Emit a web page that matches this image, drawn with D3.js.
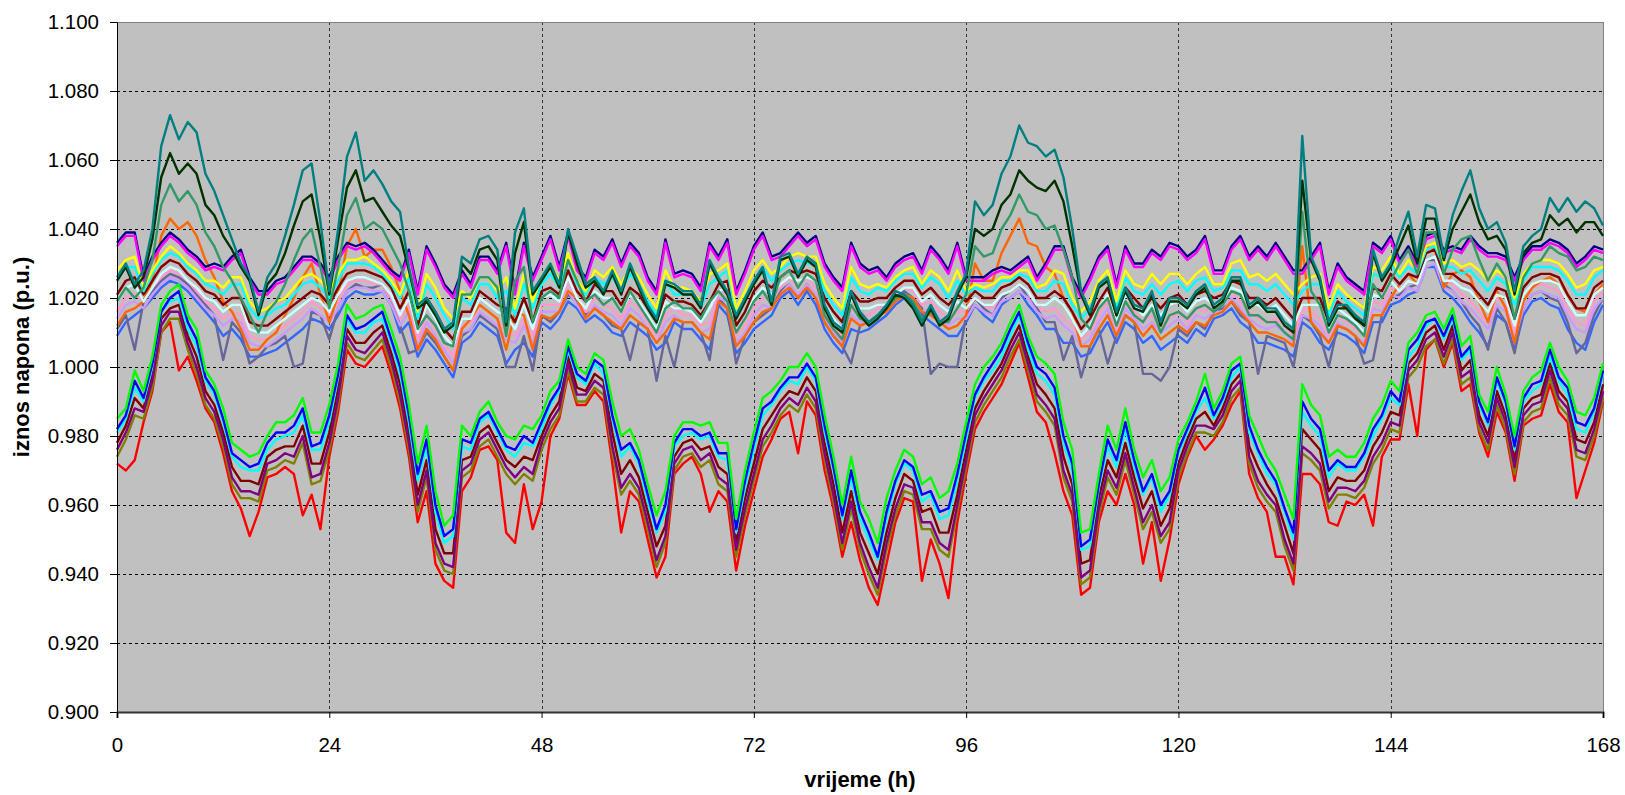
<!DOCTYPE html>
<html><head><meta charset="utf-8">
<script src="https://cdn.jsdelivr.net/npm/d3@7"></script>
<style>
body{margin:0;background:#fff}
svg text{font-family:"Liberation Sans",Arial,Helvetica,sans-serif;fill:#000}
</style>
</head><body>
<svg id="chart" width="1625" height="795"></svg>
<script>
// Hourly voltage magnitudes, in units of 0.001 p.u. (h = 0..168)
const LOW_GREEN=[985,988,999,993,1003,1018,1022,1024,1015,1011,999,995,988,978,976,974,975,980,984,984,986,991,981,981,989,1001,1018,1014,1015,1017,1018,1011,1003,989,972,983,964,954,957,983,980,987,990,984,980,979,983,982,986,993,996,1008,1000,998,1004,1002,990,980,982,976,966,957,964,980,984,984,983,984,978,978,956,970,981,991,993,996,1000,1000,1004,1000,986,974,960,974,961,956,949,962,970,976,974,966,968,962,964,972,984,995,1000,1003,1007,1013,1018,1009,1003,1001,998,984,976,952,953,969,983,976,988,976,968,973,964,968,979,984,990,998,988,993,1001,1003,986,980,974,970,963,956,995,989,986,974,976,974,974,978,985,989,996,993,1007,1010,1015,1016,1011,1017,1006,1009,992,987,1000,992,980,993,997,999,1007,1000,996,987,986,991,1001];
const LOW_BLUE=[982,986,996,991,1001,1016,1020,1022,1013,1008,997,993,985,975,973,971,972,978,981,981,983,988,977,978,986,998,1015,1011,1012,1014,1016,1008,1000,986,969,979,960,951,953,979,978,985,987,982,977,976,980,978,984,990,994,1006,998,996,1002,1000,986,976,978,973,963,953,960,978,982,982,980,981,975,975,953,967,978,988,990,994,997,997,1001,997,983,971,957,970,958,952,945,958,967,973,971,963,964,958,959,969,981,992,997,1001,1005,1011,1016,1007,1000,998,994,980,972,948,950,966,979,973,984,973,964,969,960,964,976,982,988,994,986,991,999,1001,983,976,971,967,959,952,990,985,982,970,973,971,971,975,982,986,993,990,1005,1008,1013,1014,1009,1015,1003,1006,990,984,997,990,977,991,995,996,1005,997,994,984,983,988,999];
const LOW_CYAN=[981,985,994,990,1000,1016,1019,1020,1011,1006,996,992,984,974,971,970,970,976,979,980,981,986,976,976,984,997,1014,1010,1010,1013,1014,1007,998,984,967,977,958,949,951,977,976,984,986,981,976,974,978,977,982,989,993,1005,997,995,1001,998,985,974,977,972,961,952,958,977,980,981,979,980,974,973,952,965,976,986,989,993,996,995,1000,996,981,970,956,968,956,950,944,956,966,972,970,961,963,956,957,967,979,991,996,999,1003,1009,1015,1005,998,996,992,978,970,947,948,965,977,971,982,971,963,968,958,963,975,981,987,991,985,990,997,1000,981,975,969,966,958,950,987,983,980,968,972,970,970,974,980,985,991,989,1003,1006,1012,1014,1008,1014,1002,1005,989,983,996,989,976,990,993,995,1003,996,992,982,981,987,998];
const LOW_MAROON=[978,983,991,988,998,1014,1017,1018,1009,1003,993,989,981,971,967,967,966,974,976,977,977,983,972,972,981,994,1011,1007,1007,1010,1012,1004,995,981,963,973,953,946,946,973,974,981,983,978,973,971,974,973,980,986,990,1003,994,993,998,996,981,969,973,968,958,948,954,974,978,979,976,977,971,969,949,962,972,982,986,990,993,992,997,993,978,966,952,964,952,946,940,952,962,969,967,958,959,952,952,963,976,988,993,997,1001,1007,1012,1003,995,992,988,974,966,943,944,962,973,968,978,968,959,964,954,959,972,979,985,987,983,988,995,998,977,971,966,962,954,946,982,979,976,964,968,967,967,970,977,981,987,986,1001,1004,1010,1012,1005,1012,999,1002,986,980,993,986,973,988,991,992,1001,993,990,979,978,984,995];
const LOW_PURPLE=[976,981,988,987,996,1012,1016,1016,1007,1000,991,987,979,968,964,964,963,972,973,975,974,980,968,969,978,991,1009,1005,1004,1007,1010,1002,992,978,960,970,949,943,942,970,972,979,981,976,971,968,971,969,978,984,988,1001,992,992,996,994,977,965,969,965,955,944,951,972,976,977,973,975,968,966,947,959,969,979,983,988,991,989,994,990,975,963,949,961,949,942,936,949,959,966,965,955,955,949,947,960,973,986,991,995,999,1005,1010,1001,992,989,985,970,963,939,941,959,970,965,975,965,955,960,951,955,970,977,983,983,982,986,993,996,974,967,963,960,950,943,977,975,972,961,965,965,964,967,974,978,984,983,999,1002,1008,1010,1003,1010,997,999,984,978,991,984,971,986,989,990,999,991,988,976,975,982,993];
const LOW_OLIVE=[974,979,986,985,994,1010,1014,1014,1005,998,989,985,977,966,962,962,961,970,971,973,972,978,966,967,976,989,1007,1003,1002,1005,1008,1000,990,976,958,968,947,941,940,968,970,977,979,974,969,966,969,967,976,982,986,999,990,990,994,992,975,963,967,963,953,942,949,970,974,975,971,973,966,964,945,957,967,977,981,986,989,987,992,988,973,961,947,959,947,940,934,947,957,964,963,953,953,947,945,958,971,984,989,993,997,1003,1008,999,990,987,983,968,961,937,939,957,968,963,973,963,953,958,949,953,968,975,981,981,980,984,991,994,972,965,961,958,948,941,975,973,970,959,963,963,962,965,972,976,982,981,997,1000,1006,1008,1001,1008,995,997,982,976,989,982,969,984,987,988,997,989,986,974,973,980,991];
const LOW_RED=[972,970,973,984,993,1010,1013,999,1003,996,988,984,975,964,959,951,958,968,969,971,969,957,963,953,974,987,1005,1001,1000,1003,1006,998,988,974,955,964,943,938,936,964,968,976,977,973,952,949,966,953,961,980,985,998,989,989,993,990,972,952,964,961,950,939,945,969,972,974,969,958,964,961,941,954,964,974,979,985,987,975,990,986,970,959,945,955,944,936,931,943,955,962,961,938,950,943,933,955,969,982,987,991,995,1001,1007,997,987,984,975,964,957,934,936,955,964,960,969,960,943,955,938,950,966,974,980,976,979,983,989,993,969,962,958,945,945,937,969,969,966,955,954,961,960,963,954,974,979,979,995,980,1005,1008,1000,1007,993,995,981,974,987,981,967,983,985,986,995,987,984,962,970,978,990];

const UP_NAVY=[1036,1039,1039,1026,1032,1036,1039,1037,1034,1032,1029,1030,1029,1032,1034,1026,1022,1022,1025,1026,1029,1032,1032,1030,1026,1032,1036,1035,1036,1034,1031,1028,1026,1034,1022,1035,1030,1024,1021,1028,1024,1032,1032,1028,1036,1022,1036,1026,1032,1038,1029,1039,1029,1026,1034,1032,1037,1030,1036,1033,1026,1022,1037,1027,1028,1027,1023,1036,1032,1037,1022,1028,1035,1039,1032,1033,1036,1039,1036,1038,1030,1026,1023,1036,1030,1028,1029,1026,1030,1032,1033,1028,1035,1032,1028,1036,1026,1026,1026,1028,1029,1028,1030,1032,1026,1030,1035,1035,1026,1021,1026,1032,1035,1024,1035,1030,1030,1034,1032,1036,1035,1032,1034,1038,1028,1028,1035,1038,1032,1035,1032,1036,1032,1028,1028,1032,1036,1022,1030,1026,1024,1022,1036,1034,1038,1031,1035,1030,1038,1039,1034,1035,1034,1038,1035,1033,1033,1032,1026,1032,1035,1035,1037,1036,1034,1030,1032,1035,1034];
const UP_MAGENTA=[1035,1038,1038,1025,1031,1035,1038,1036,1033,1031,1028,1029,1028,1031,1033,1025,1021,1021,1024,1025,1028,1031,1031,1029,1025,1031,1035,1034,1035,1033,1030,1027,1025,1033,1021,1034,1029,1023,1020,1027,1023,1031,1031,1027,1035,1021,1035,1025,1031,1037,1028,1038,1028,1025,1033,1031,1036,1029,1035,1032,1025,1021,1036,1026,1027,1026,1022,1035,1031,1036,1021,1027,1034,1038,1031,1032,1035,1038,1035,1037,1029,1025,1022,1035,1029,1027,1028,1025,1029,1031,1032,1027,1034,1031,1027,1035,1025,1025,1025,1027,1028,1027,1029,1031,1025,1029,1034,1034,1025,1020,1025,1031,1034,1023,1034,1029,1029,1033,1031,1035,1034,1031,1033,1037,1027,1027,1034,1037,1031,1034,1031,1035,1031,1027,1027,1031,1035,1021,1029,1025,1023,1021,1035,1033,1037,1030,1034,1029,1037,1038,1033,1034,1033,1037,1034,1032,1032,1031,1025,1031,1034,1034,1036,1035,1033,1029,1031,1034,1033];
const UP_YELLOW=[1028,1031,1032,1023,1028,1032,1035,1033,1030,1028,1025,1025,1023,1026,1026,1019,1016,1017,1019,1020,1023,1026,1027,1025,1022,1027,1031,1031,1032,1030,1028,1025,1021,1028,1016,1027,1023,1017,1014,1022,1020,1026,1026,1022,1026,1017,1027,1019,1026,1030,1025,1033,1025,1022,1028,1026,1029,1024,1029,1026,1021,1017,1028,1023,1023,1022,1019,1027,1028,1030,1017,1022,1028,1031,1027,1029,1032,1033,1032,1032,1024,1020,1017,1029,1024,1023,1024,1023,1026,1028,1029,1024,1028,1026,1022,1028,1022,1024,1023,1024,1026,1026,1028,1028,1023,1024,1028,1027,1020,1016,1019,1025,1028,1019,1028,1024,1023,1027,1024,1027,1027,1024,1027,1029,1024,1024,1030,1031,1026,1027,1025,1027,1024,1021,1024,1026,1027,1017,1024,1021,1019,1017,1029,1028,1032,1027,1031,1028,1035,1036,1030,1031,1029,1030,1028,1025,1028,1026,1020,1027,1030,1031,1031,1030,1027,1023,1024,1028,1029];
const UP_CYAN=[1025,1029,1029,1022,1027,1031,1033,1032,1029,1027,1024,1023,1021,1024,1024,1017,1014,1015,1017,1018,1021,1024,1025,1023,1020,1025,1030,1030,1030,1029,1027,1024,1020,1026,1014,1024,1020,1015,1011,1020,1018,1024,1024,1020,1022,1015,1024,1017,1024,1027,1023,1031,1024,1021,1026,1024,1026,1022,1027,1024,1019,1015,1025,1021,1021,1021,1017,1024,1026,1028,1015,1020,1025,1029,1025,1028,1030,1031,1030,1030,1022,1018,1015,1026,1022,1021,1023,1022,1025,1027,1027,1023,1026,1024,1020,1025,1021,1023,1022,1022,1025,1025,1027,1026,1022,1022,1025,1024,1018,1014,1017,1023,1026,1017,1026,1022,1021,1024,1021,1024,1025,1022,1025,1026,1022,1023,1028,1028,1024,1024,1022,1024,1021,1018,1022,1024,1024,1015,1022,1019,1017,1015,1027,1026,1030,1026,1029,1027,1034,1035,1029,1029,1027,1028,1025,1022,1026,1024,1018,1025,1029,1029,1029,1028,1025,1021,1021,1026,1028];
const UP_MAROON=[1021,1025,1026,1021,1025,1029,1031,1030,1027,1025,1022,1021,1018,1020,1020,1013,1012,1012,1014,1016,1018,1020,1022,1021,1018,1023,1027,1028,1028,1027,1026,1023,1017,1022,1012,1020,1016,1011,1008,1016,1016,1022,1020,1018,1017,1013,1020,1013,1022,1023,1021,1028,1022,1019,1024,1022,1022,1018,1023,1021,1017,1013,1021,1019,1019,1018,1015,1019,1024,1025,1012,1016,1022,1025,1023,1026,1028,1027,1028,1027,1020,1016,1013,1022,1019,1019,1020,1020,1023,1025,1025,1021,1023,1020,1018,1021,1019,1022,1020,1020,1023,1024,1026,1024,1020,1020,1022,1020,1016,1011,1014,1019,1023,1015,1023,1020,1017,1020,1017,1020,1021,1018,1021,1022,1020,1021,1025,1024,1020,1020,1018,1020,1017,1014,1020,1020,1020,1013,1019,1017,1015,1012,1023,1022,1027,1024,1027,1026,1033,1034,1027,1027,1025,1024,1021,1018,1023,1022,1014,1023,1026,1027,1027,1026,1021,1017,1017,1023,1025];
const UP_LTCYAN=[1019,1023,1024,1019,1023,1027,1029,1028,1025,1023,1020,1019,1016,1018,1018,1011,1010,1010,1012,1014,1016,1018,1020,1019,1016,1021,1025,1026,1026,1025,1024,1021,1015,1020,1010,1018,1014,1009,1006,1014,1014,1020,1018,1016,1015,1011,1018,1011,1020,1021,1019,1026,1020,1017,1022,1020,1020,1016,1021,1019,1015,1011,1019,1017,1017,1016,1013,1017,1022,1023,1010,1014,1020,1023,1021,1024,1026,1025,1026,1025,1018,1014,1011,1020,1017,1017,1018,1018,1021,1023,1023,1019,1021,1018,1016,1019,1017,1020,1018,1018,1021,1022,1024,1022,1018,1018,1020,1018,1014,1009,1012,1017,1021,1013,1021,1018,1015,1018,1015,1018,1019,1016,1019,1020,1018,1019,1023,1022,1018,1018,1016,1018,1015,1012,1018,1018,1018,1011,1017,1015,1013,1010,1021,1020,1025,1022,1025,1024,1031,1032,1025,1025,1023,1022,1019,1016,1021,1020,1012,1021,1024,1025,1025,1024,1019,1015,1015,1021,1023];
const UP_PINK=[1016,1020,1021,1019,1023,1026,1028,1027,1025,1022,1019,1017,1014,1016,1015,1009,1008,1008,1010,1012,1014,1016,1019,1017,1015,1019,1024,1025,1025,1024,1024,1020,1014,1018,1008,1015,1011,1007,1003,1012,1013,1018,1016,1014,1010,1009,1014,1009,1018,1018,1018,1024,1020,1016,1020,1018,1017,1014,1019,1017,1013,1009,1015,1017,1015,1015,1012,1013,1022,1021,1009,1012,1017,1020,1019,1023,1026,1023,1026,1023,1016,1012,1009,1017,1015,1015,1017,1018,1021,1023,1022,1018,1019,1016,1014,1016,1016,1020,1018,1017,1021,1022,1024,1022,1018,1016,1017,1014,1012,1008,1010,1015,1019,1011,1019,1016,1013,1015,1012,1014,1016,1013,1017,1016,1018,1018,1022,1019,1016,1014,1013,1014,1012,1009,1017,1016,1014,1009,1015,1013,1011,1009,1019,1018,1023,1022,1025,1024,1031,1032,1025,1024,1021,1019,1016,1013,1020,1018,1010,1019,1023,1024,1023,1022,1017,1013,1012,1019,1022];
const UP_LAVENDER=[1014,1018,1019,1017,1021,1024,1026,1025,1023,1020,1017,1015,1012,1014,1013,1007,1006,1006,1008,1010,1012,1014,1017,1015,1013,1017,1022,1023,1023,1022,1022,1018,1012,1016,1006,1013,1009,1005,1001,1010,1011,1016,1014,1012,1008,1007,1012,1007,1016,1016,1016,1022,1018,1014,1018,1016,1015,1012,1017,1015,1011,1007,1013,1015,1013,1013,1010,1011,1020,1019,1007,1010,1015,1018,1017,1021,1024,1021,1024,1021,1014,1010,1007,1015,1013,1013,1015,1016,1019,1021,1020,1016,1017,1014,1012,1014,1014,1018,1016,1015,1019,1020,1022,1020,1016,1014,1015,1012,1010,1006,1008,1013,1017,1009,1017,1014,1011,1013,1010,1012,1014,1011,1015,1014,1016,1016,1020,1017,1014,1012,1011,1012,1010,1007,1015,1014,1012,1007,1013,1011,1009,1007,1017,1016,1021,1020,1023,1022,1029,1030,1023,1022,1019,1017,1014,1011,1018,1016,1008,1017,1021,1022,1021,1020,1015,1011,1010,1017,1020];
const UP_ORANGE=[1012,1016,1017,1019,1025,1038,1043,1040,1042,1038,1031,1026,1019,1016,1011,1005,1005,1008,1010,1015,1020,1026,1030,1021,1013,1021,1035,1040,1032,1034,1034,1029,1022,1015,1005,1011,1008,1003,999,1011,1014,1018,1016,1014,1005,1016,1015,1005,1015,1014,1016,1022,1020,1014,1017,1015,1013,1011,1015,1013,1011,1007,1010,1014,1013,1013,1010,1008,1019,1017,1006,1009,1013,1016,1017,1021,1023,1020,1023,1020,1013,1009,1006,1014,1012,1013,1015,1016,1019,1021,1020,1016,1015,1013,1011,1012,1015,1030,1025,1025,1033,1038,1043,1036,1035,1029,1027,1020,1016,1006,1006,1011,1015,1009,1015,1013,1009,1012,1008,1010,1012,1010,1013,1012,1015,1016,1019,1016,1013,1010,1010,1009,1008,1006,1035,1013,1010,1007,1012,1011,1009,1006,1015,1015,1020,1024,1027,1024,1035,1034,1023,1027,1028,1026,1019,1013,1022,1017,1007,1019,1023,1025,1026,1024,1021,1017,1016,1021,1024];
const UP_GRAY=[1011,1015,1005,1019,1022,1025,1027,1026,1024,1021,1018,1015,1002,1013,1010,1001,1003,1006,1007,1009,1000,1001,1016,1015,1008,1017,1022,1024,1023,1023,1024,1020,1012,1004,1005,1010,1007,1003,999,1009,1011,1015,1013,1011,1000,1000,1009,999,1015,1013,1016,1021,1019,1015,1017,1015,1012,1011,1002,1013,1011,996,1009,1000,1013,1013,1010,1002,1020,1017,1001,1009,1013,1015,1017,1022,1024,1020,1024,1020,1013,1009,1006,1001,1012,1013,1015,1017,1020,1022,1020,1017,998,1001,1000,1000,1015,1020,1017,1015,1020,1022,1024,1020,1017,1013,1013,1002,1009,997,1006,1011,1001,1009,1015,1013,998,998,996,1000,1011,1009,1013,1011,1016,1017,1019,1015,1013,998,1009,1008,1007,1000,1015,1013,1009,1000,1012,1011,1009,1001,1002,1015,1020,1021,1023,1024,1031,1031,1024,1022,1019,1015,1012,1005,1017,1013,1004,1017,1021,1022,1020,1019,1013,1004,1007,1015,1020];
const UP_BLUE=[1009,1013,1015,1017,1020,1023,1025,1024,1022,1019,1016,1013,1009,1011,1008,1003,1003,1004,1005,1007,1009,1011,1014,1013,1011,1015,1020,1022,1021,1021,1022,1018,1010,1013,1003,1008,1005,1001,997,1007,1009,1013,1011,1009,1001,1005,1007,1003,1013,1011,1014,1019,1017,1013,1015,1013,1010,1009,1013,1011,1009,1005,1007,1013,1011,1011,1008,1005,1018,1015,1004,1007,1011,1013,1015,1020,1022,1018,1022,1018,1011,1007,1004,1011,1010,1011,1013,1015,1018,1020,1018,1015,1013,1011,1009,1009,1013,1018,1015,1013,1018,1020,1022,1018,1015,1011,1011,1007,1007,1003,1004,1009,1013,1007,1013,1011,1007,1009,1005,1007,1009,1007,1011,1009,1014,1015,1017,1013,1011,1007,1007,1006,1005,1003,1013,1011,1007,1005,1010,1009,1007,1004,1013,1013,1018,1019,1021,1022,1029,1029,1022,1020,1017,1013,1010,1006,1015,1013,1005,1015,1019,1020,1018,1017,1011,1007,1005,1013,1018];
const UP_SEAGREEN=[1019,1023,1020,1023,1031,1047,1053,1048,1051,1047,1039,1035,1029,1025,1020,1015,1010,1016,1019,1024,1031,1037,1040,1029,1017,1029,1044,1049,1040,1042,1040,1035,1030,1022,1011,1015,1012,1007,1006,1021,1021,1026,1026,1023,1009,1025,1029,1013,1020,1022,1020,1031,1025,1019,1021,1018,1020,1016,1022,1018,1014,1010,1017,1019,1017,1017,1014,1019,1022,1019,1010,1014,1019,1022,1018,1026,1028,1023,1027,1025,1015,1011,1008,1018,1014,1013,1015,1017,1020,1021,1019,1014,1016,1013,1013,1017,1021,1035,1032,1033,1040,1044,1050,1045,1044,1040,1041,1034,1026,1014,1011,1017,1020,1012,1019,1015,1013,1017,1010,1015,1016,1014,1017,1018,1016,1018,1022,1021,1015,1015,1013,1013,1010,1008,1045,1022,1018,1010,1015,1014,1012,1009,1024,1020,1025,1030,1034,1027,1039,1039,1027,1034,1037,1038,1031,1025,1030,1026,1014,1026,1030,1031,1035,1033,1032,1028,1029,1032,1031];
const UP_DKGREEN=[1025,1029,1023,1026,1037,1055,1062,1056,1059,1056,1047,1044,1038,1034,1029,1025,1015,1024,1027,1033,1041,1048,1050,1037,1021,1037,1052,1057,1048,1049,1045,1041,1038,1028,1017,1019,1015,1010,1012,1030,1027,1034,1035,1031,1012,1033,1042,1021,1025,1029,1023,1039,1030,1023,1025,1021,1027,1021,1029,1023,1017,1013,1024,1023,1021,1021,1017,1030,1025,1021,1014,1019,1024,1028,1018,1031,1032,1026,1031,1029,1017,1012,1010,1021,1015,1012,1014,1017,1021,1020,1017,1012,1017,1012,1014,1021,1026,1040,1038,1040,1047,1050,1057,1054,1052,1051,1054,1048,1035,1021,1015,1023,1025,1015,1022,1017,1016,1021,1012,1019,1019,1017,1021,1023,1017,1019,1025,1025,1017,1019,1016,1016,1012,1010,1054,1031,1025,1012,1017,1017,1014,1012,1033,1025,1029,1035,1041,1030,1043,1043,1031,1040,1045,1050,1042,1037,1038,1034,1021,1033,1036,1037,1044,1041,1043,1039,1042,1042,1038];
const UP_TEAL=[1026,1030,1024,1028,1040,1064,1073,1066,1071,1068,1056,1051,1044,1037,1030,1026,1016,1026,1030,1038,1047,1057,1059,1042,1022,1040,1061,1068,1054,1057,1053,1048,1045,1029,1018,1020,1016,1011,1013,1032,1030,1037,1038,1034,1013,1039,1046,1022,1026,1030,1024,1040,1032,1024,1026,1022,1028,1022,1030,1024,1018,1014,1025,1024,1022,1022,1018,1031,1026,1022,1015,1020,1025,1029,1019,1032,1033,1027,1032,1030,1018,1013,1011,1022,1016,1013,1015,1018,1022,1021,1018,1013,1018,1013,1015,1022,1027,1048,1044,1047,1056,1061,1070,1065,1064,1061,1063,1055,1040,1022,1016,1024,1026,1016,1023,1018,1017,1022,1013,1020,1020,1018,1022,1024,1018,1020,1026,1026,1018,1020,1017,1017,1013,1011,1067,1032,1026,1013,1018,1018,1015,1013,1034,1026,1030,1038,1045,1032,1047,1046,1032,1044,1051,1057,1046,1040,1042,1036,1022,1035,1038,1040,1049,1045,1049,1045,1048,1046,1041];

const Y_TICKS=[0.900,0.920,0.940,0.960,0.980,1.000,1.020,1.040,1.060,1.080,1.100];
const X_TICKS=[0,24,48,72,96,120,144,168];
const X_TITLE="vrijeme (h)";
const Y_TITLE="iznos napona (p.u.)";

// series in drawing order (later drawn on top)
const SERIES=[
  {name:"U1",color:"#3366FF",values:UP_BLUE},
  {name:"U2",color:"#666699",values:UP_GRAY},
  {name:"U3",color:"#CC99FF",values:UP_LAVENDER},
  {name:"U4",color:"#FF99CC",values:UP_PINK},
  {name:"U5",color:"#FF6600",values:UP_ORANGE},
  {name:"U6",color:"#CCFFFF",values:UP_LTCYAN},
  {name:"U7",color:"#800000",values:UP_MAROON},
  {name:"U8",color:"#00FFFF",values:UP_CYAN},
  {name:"U9",color:"#FFFF00",values:UP_YELLOW},
  {name:"U10",color:"#000080",values:UP_NAVY},
  {name:"U11",color:"#FF00FF",values:UP_MAGENTA},
  {name:"U12",color:"#339966",values:UP_SEAGREEN},
  {name:"U13",color:"#003300",values:UP_DKGREEN},
  {name:"U14",color:"#008080",values:UP_TEAL},
  {name:"L1",color:"#FF0000",values:LOW_RED},
  {name:"L2",color:"#808000",values:LOW_OLIVE},
  {name:"L3",color:"#800000",values:LOW_MAROON},
  {name:"L4",color:"#00FFFF",values:LOW_CYAN},
  {name:"L5",color:"#0000FF",values:LOW_BLUE},
  {name:"L6",color:"#00FF00",values:LOW_GREEN},
  {name:"L7",color:"#800080",values:LOW_PURPLE}
];

const svg=d3.select("#chart");
const L=117,R=1603,T=22,B=712;
const x=d3.scaleLinear().domain([0,168]).range([L,R]);
const y=d3.scaleLinear().domain([0.9,1.1]).range([B,T]);

svg.append("rect").attr("x",L).attr("y",T).attr("width",R-L).attr("height",B-T).attr("fill","#C0C0C0");

// gridlines
svg.append("g").selectAll("line").data(Y_TICKS.filter(v=>v>0.901&&v<1.099)).join("line")
  .attr("x1",L).attr("x2",R).attr("y1",d=>Math.round(y(d))+0.5).attr("y2",d=>Math.round(y(d))+0.5)
  .attr("stroke","#000").attr("stroke-width",1).attr("stroke-dasharray","3,3");
svg.append("g").selectAll("line").data(X_TICKS.filter(v=>v>0&&v<168)).join("line")
  .attr("y1",T).attr("y2",B).attr("x1",d=>Math.round(x(d))+0.5).attr("x2",d=>Math.round(x(d))+0.5)
  .attr("stroke","#333").attr("stroke-width",1).attr("stroke-dasharray","3,3");

// plot frame top/right
svg.append("line").attr("x1",L).attr("x2",R).attr("y1",T+0.5).attr("y2",T+0.5).attr("stroke","#808080");
svg.append("line").attr("x1",R+0.5).attr("x2",R+0.5).attr("y1",T).attr("y2",B).attr("stroke","#808080");

// series
const line=d3.line().x((d,i)=>x(i)).y(d=>y(d/1000));
const gS=svg.append("g");
SERIES.forEach(s=>{
  gS.append("path").datum(s.values).attr("d",line).attr("fill","none")
    .attr("stroke",s.color).attr("stroke-width",2.4).attr("stroke-linejoin","round");
});

// axes
const ax=svg.append("g").attr("transform",`translate(${L},0)`)
  .call(d3.axisLeft(y).tickValues(Y_TICKS).tickFormat(d3.format(".3f")).tickSize(7).tickPadding(11));
ax.selectAll("text").style("font-size","20.5px");
const bx=svg.append("g").attr("transform",`translate(0,${B})`)
  .call(d3.axisBottom(x).tickValues(X_TICKS).tickFormat(d3.format("d")).tickSize(6).tickPadding(19));
bx.selectAll("text").style("font-size","20.5px");
[ax,bx].forEach(g=>{g.selectAll("path,line").attr("stroke","#000");});
bx.select(".domain").attr("stroke","#333").attr("stroke-width",2);

svg.append("text").attr("x",(L+R)/2).attr("y",787).attr("text-anchor","middle")
  .style("font-size","22px").style("font-weight","bold").text(X_TITLE);
svg.append("text").attr("transform","translate(29,357) rotate(-90)").attr("text-anchor","middle")
  .style("font-size","22px").style("font-weight","bold").text(Y_TITLE);
</script>
</body></html>
